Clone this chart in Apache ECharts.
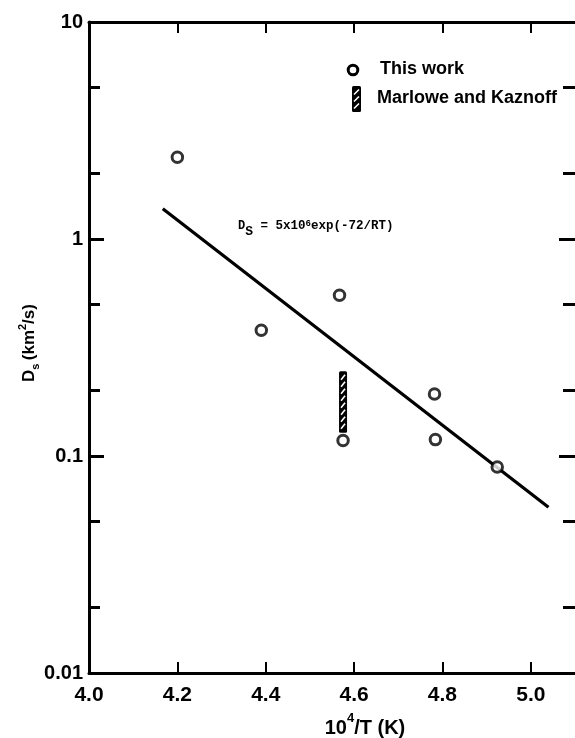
<!DOCTYPE html>
<html><head><meta charset="utf-8">
<script src="https://cdn.jsdelivr.net/npm/echarts@6/dist/echarts.min.js"></script>
<style>html,body{margin:0;padding:0;background:#fff}#c{width:575px;height:738px}</style>
</head><body><div id="c"></div>
<script>
// ---- data ----
const xTicks = [4.0, 4.2, 4.4, 4.6, 4.8, 5.0];
const yMajor = [0.01, 0.1, 1, 10];
const yMinor = [0.02, 0.05, 0.2, 0.5, 2, 5];
const thisWork = [[4.20, 2.38], [4.39, 0.38], [4.567, 0.55], [4.575, 0.118], [4.782, 0.193], [4.784, 0.119], [4.924, 0.089]];
const fitLine = [[4.167, 1.38], [5.04, 0.058]];
const marlowe = [[4.575, 0.128, 0.246]]; // x, low, high
const equationText = '{d|D}{s|S}{t| = 5x10}{p|6}{t|exp(-72/RT)}';

const FONT = 'Liberation Sans';
const chart = echarts.init(document.getElementById('c'), null, {renderer: 'canvas'});

function fmt(v) { return String(Number(Number(v).toPrecision(3))); }

function hatch(left, top, w, h) {
  const ch = [{type: 'rect', shape: {x: left, y: top, width: w, height: h, r: 1.5}, style: {fill: '#000'}}];
  for (let yy = top + 6; yy < top + h - 2; yy += 7) {
    ch.push({type: 'line', shape: {x1: left + 2, y1: yy + 2.5, x2: left + w - 2, y2: yy - 2.5}, style: {stroke: '#fff', lineWidth: 1.6}});
  }
  return ch;
}

const axisLine = {show: true, lineStyle: {color: '#000', width: 3}};
const labelStyle = {color: '#000', fontFamily: FONT, fontWeight: 'bold'};

function yAx(pos, vals, len, labels) {
  return {
    type: 'log', logBase: 10, min: 0.01, max: 10, position: pos,
    axisLine: labels === true ? axisLine : {show: false},
    axisTick: {show: true, inside: true, length: len, customValues: vals, lineStyle: {color: '#000', width: 3}},
    axisLabel: labels ? Object.assign({show: true, customValues: vals, formatter: fmt, fontSize: 20, margin: 6}, labelStyle) : {show: false},
    splitLine: {show: false}, minorTick: {show: false}
  };
}

const option = {
  backgroundColor: '#fff',
  animation: false,
  grid: {left: 89, top: 22, width: 487, height: 651, containLabel: false},
  xAxis: [
    {type: 'value', min: 4.0, max: 5.1, interval: 0.2, position: 'bottom',
     axisLine: axisLine,
     axisTick: {show: true, inside: true, length: 11, customValues: xTicks, lineStyle: {color: '#000', width: 2}},
     axisLabel: Object.assign({customValues: xTicks, formatter: v => Number(v).toFixed(1), fontSize: 21, margin: 12}, labelStyle),
     splitLine: {show: false}},
    {type: 'value', min: 4.0, max: 5.1, interval: 0.2, position: 'top',
     axisLine: axisLine,
     axisTick: {show: true, inside: true, length: 11, customValues: xTicks, lineStyle: {color: '#000', width: 2}},
     axisLabel: {show: false}, splitLine: {show: false}}
  ],
  yAxis: [
    yAx('left', yMajor, 15, true),
    yAx('left', yMinor, 11, null),
    yAx('right', yMajor, 16, false),
    yAx('right', yMinor, 12, null)
  ],
  series: [
    {type: 'line', data: fitLine, xAxisIndex: 0, yAxisIndex: 0, showSymbol: false, symbol: 'none',
     lineStyle: {color: '#000', width: 3.2}, silent: true, z: 2},
    {type: 'custom', data: marlowe, xAxisIndex: 0, yAxisIndex: 0, z: 3,
     renderItem: function (params, api) {
       const x = api.value(0), lo = api.value(1), hi = api.value(2);
       const pT = api.coord([x, hi]), pB = api.coord([x, lo]);
       const w = 8;
       return {type: 'group', children: hatch(pT[0] - w / 2, pT[1], w, pB[1] - pT[1])};
     }},
    {type: 'scatter', data: thisWork, xAxisIndex: 0, yAxisIndex: 0, symbol: 'circle', symbolSize: 10.5,
     itemStyle: {color: '#fff', borderColor: '#000', borderWidth: 3}, z: 4}
  ],
  graphic: [
    // legend
    {type: 'circle', shape: {cx: 353, cy: 70, r: 4.8}, style: {fill: '#fff', stroke: '#000', lineWidth: 3}},
    {type: 'text', left: 380, top: 60, style: {text: 'This work', fontSize: 18, fontWeight: 'bold', fontFamily: FONT, fill: '#000'}},
    {type: 'group', children: hatch(352, 86, 9, 26)},
    {type: 'text', left: 377, top: 89, style: {text: 'Marlowe and Kaznoff', fontSize: 18, fontWeight: 'bold', fontFamily: FONT, fill: '#000'}},
    // equation
    {type: 'text', x: 238, y: 229, style: {
      text: equationText, verticalAlign: 'middle', align: 'left',
      rich: {
        d: {fontSize: 12, fontWeight: 'bold', fontFamily: 'Liberation Mono', fill: '#000', verticalAlign: 'top', lineHeight: 19},
        s: {fontSize: 13, fontWeight: 'bold', fontFamily: 'Liberation Mono', fill: '#000', verticalAlign: 'bottom', lineHeight: 19},
        t: {fontSize: 12.5, fontWeight: 'bold', fontFamily: 'Liberation Mono', fill: '#000', verticalAlign: 'top', lineHeight: 19},
        p: {fontSize: 9, fontWeight: 'bold', fontFamily: 'Liberation Mono', fill: '#000', verticalAlign: 'top', lineHeight: 19}
      }}},
    // x axis name
    {type: 'text', x: 365, y: 725, style: {
      text: '{b|10}{p|4}{b|/T (K)}', align: 'center', verticalAlign: 'middle',
      rich: {
        b: {fontSize: 20, fontWeight: 'bold', fontFamily: FONT, fill: '#000', verticalAlign: 'bottom', lineHeight: 26},
        p: {fontSize: 13, fontWeight: 'bold', fontFamily: FONT, fill: '#000', verticalAlign: 'top', lineHeight: 26}
      }}},
    // y axis name
    {type: 'text', x: 29, y: 343, rotation: Math.PI / 2, style: {
      text: '{b|D}{s|s} {b|(km}{p|2}{b|/s)}', align: 'center', verticalAlign: 'middle',
      rich: {
        b: {fontSize: 17, fontWeight: 'bold', fontFamily: FONT, fill: '#000', verticalAlign: 'middle', lineHeight: 24},
        s: {fontSize: 11, fontWeight: 'bold', fontFamily: FONT, fill: '#000', verticalAlign: 'bottom', lineHeight: 24},
        p: {fontSize: 11, fontWeight: 'bold', fontFamily: FONT, fill: '#000', verticalAlign: 'top', lineHeight: 24}
      }}}
  ]
};
chart.setOption(option);
</script></body></html>
